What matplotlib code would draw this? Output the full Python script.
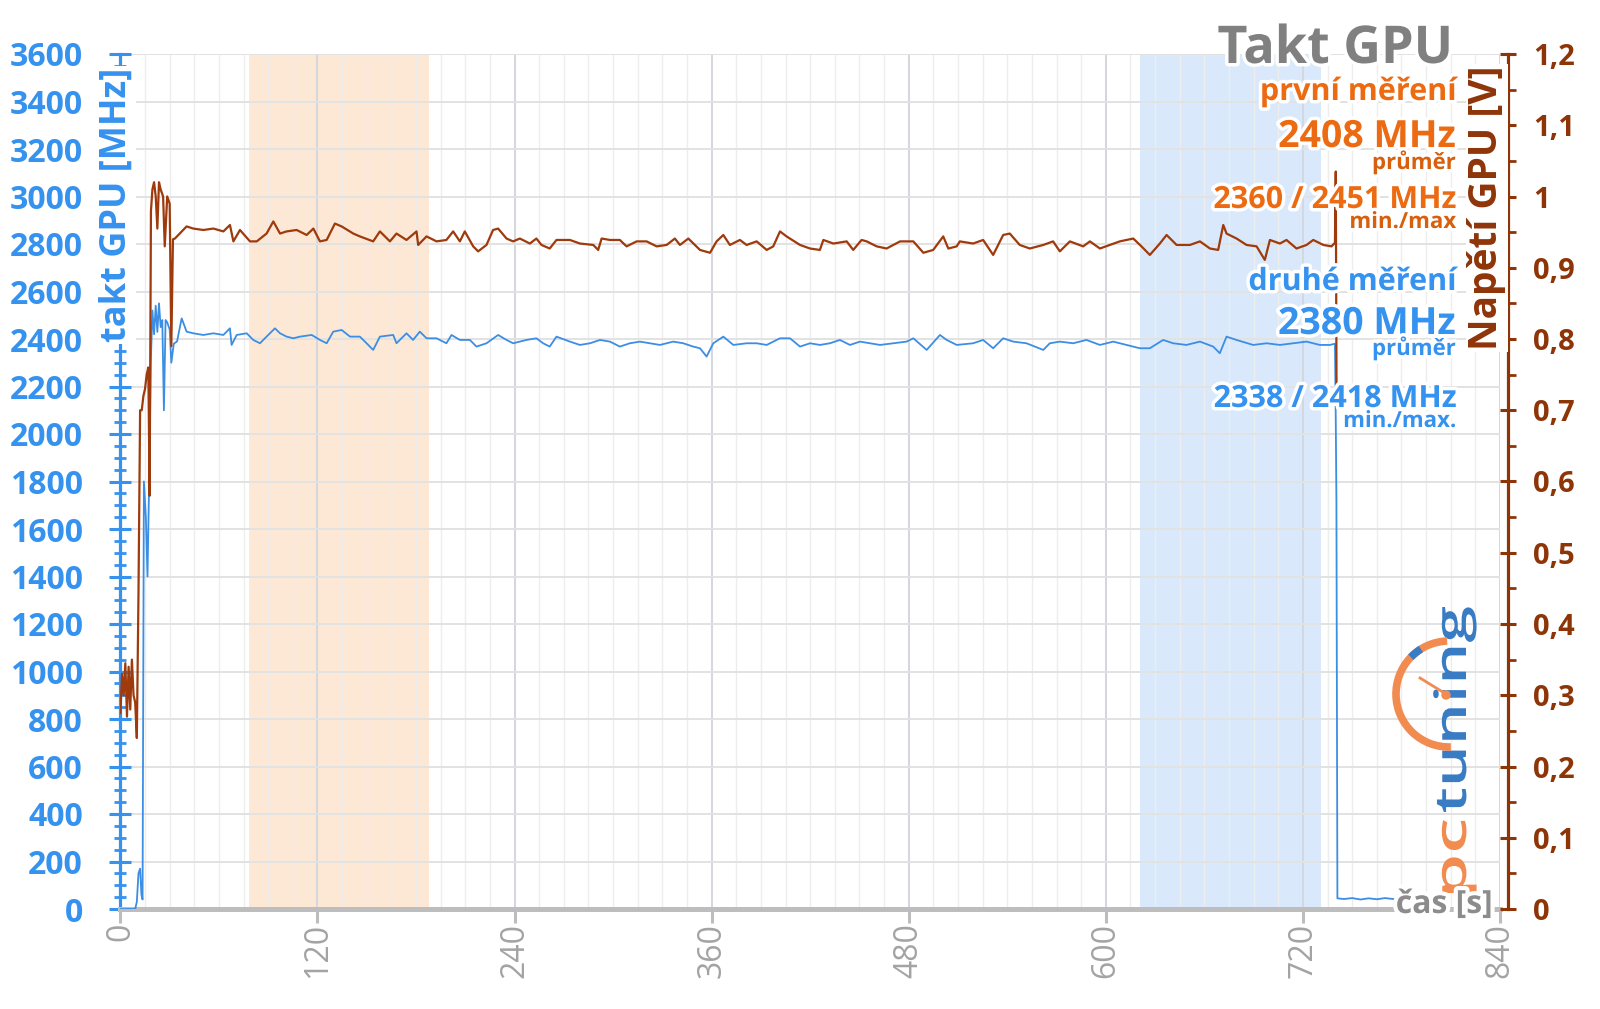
import matplotlib
matplotlib.use("Agg")
import matplotlib.pyplot as plt
import matplotlib.patheffects as pe
from matplotlib.ticker import MultipleLocator, FuncFormatter
from matplotlib.patches import Arc, Circle, PathPatch
from matplotlib.textpath import TextPath
from matplotlib.font_manager import FontProperties
from matplotlib.transforms import Affine2D

plt.rcParams['font.family'] = ['Open Sans', 'DejaVu Sans']

# ---------------- data ----------------
# GPU clock, second run [MHz]
clk_t = [0, 9, 10, 11, 12, 12.8, 13.5, 14.3, 15.5, 16.5, 17.5, 18.5, 19.5, 20.5, 21.5, 22.5, 23.5, 24.5, 25.5, 26.5,
         27.5, 28.5, 30, 31, 32.5, 34.5,
         37.3, 40.3, 44.4, 50.5, 56.6, 62.7, 66.7, 67.7, 70.8, 76.9, 80.9, 85.0, 89.0, 94.1, 97.2, 101.2, 105.3, 109.4,
         116.5, 121.5, 125.6, 129.6, 134.7, 139.8, 145.8, 149.9, 153.9, 158.0, 166.1, 168.1, 174.2, 178.2, 182.3, 186.4,
         192.5, 198.5, 201.6, 206.7, 212.8, 216.8, 222.9, 230.0, 235.1, 239.1, 247.2, 253.3, 257.4, 261.4, 265.5,
         273.7, 279.8, 285.9, 292.0, 298.1, 304.1, 310.2, 316.3, 322.4, 328.5, 336.6, 342.7, 348.8, 352.9, 356.9, 361.0,
         367.1, 373.2, 381.3, 387.4, 393.5, 401.6, 407.7, 413.8, 419.9, 425.9, 432.0, 438.1, 444.2, 450.3, 456.4, 462.5,
         470.6, 478.7, 482.8, 490.9, 499.0, 503.1, 509.2,
         519.2, 525.3, 531.4, 537.5, 543.6, 551.7, 561.9, 565.9, 572.0, 580.1, 588.2, 596.4, 604.5, 612.6, 620.7, 626.8,
         634.9, 641.0, 649.1, 657.3, 665.4, 669.4, 673.5, 679.6, 689.7, 697.9, 706.0, 714.1, 722.2, 730.3, 736.4,
         739.5, 740.0, 740.4, 741.0, 745, 750, 755, 760, 765, 770, 775, 780, 785, 790, 792, 795, 797, 800]
clk_mhz = [0, 0, 30, 150, 170, 60, 40, 1800, 1650, 1400, 1800, 2300, 2520, 2420, 2540, 2430, 2550, 2450, 2480, 2100,
           2480, 2470, 2440, 2300, 2380, 2390,
           2487, 2431, 2424, 2417, 2424, 2417, 2445, 2375, 2417, 2424, 2396, 2382, 2410, 2445, 2424, 2410, 2403, 2410,
           2417, 2396, 2382, 2431, 2438, 2410, 2410, 2382, 2354, 2410, 2417, 2382, 2424, 2396, 2431, 2403,
           2403, 2382, 2417, 2396, 2396, 2368, 2382, 2417, 2396, 2382, 2396, 2403, 2382, 2368, 2410,
           2389, 2375, 2382, 2396, 2389, 2368, 2382, 2389, 2382, 2375, 2389, 2382, 2368, 2361, 2326, 2382,
           2410, 2375, 2382, 2382, 2375, 2403, 2403, 2368, 2382, 2375, 2382, 2396, 2375, 2389, 2382, 2375,
           2382, 2389, 2403, 2354, 2417, 2396, 2375,
           2382, 2396, 2361, 2403, 2389, 2382, 2354, 2382, 2389, 2382, 2396, 2375, 2389, 2375, 2361, 2361,
           2396, 2382, 2375, 2389, 2368, 2340, 2410, 2396, 2375, 2382, 2375, 2382, 2389, 2375, 2375,
           2380, 2060, 1720, 45, 42, 46, 40, 45, 41, 46, 42, 45, 43, 58, 44, 60, 45, 45]

# GPU voltage [V]
volt_t = [0, 1, 2, 3, 4, 5, 6, 7, 8, 9, 10, 11, 12, 13, 14, 15, 16, 17, 17.8, 18.6, 19.5, 20.5, 21.5, 22.5, 23.5,
          24.5, 26, 27, 28.5, 30, 31, 32,
          33.2, 40.3, 44.4, 50.5, 56.6, 62.7, 66.7, 68.8, 72.8, 78.9, 83.0, 89.0, 93.1, 97.2, 101.2, 107.3, 113.4,
          117.5, 121.5, 125.6, 130.6, 134.7, 141.8, 145.8, 153.9, 158.0, 164.1, 168.1, 174.2, 180.3, 181.3, 186.4,
          192.5, 198.5, 202.6, 206.7, 209.7, 214.8, 217.8, 222.9, 226.9, 230.0, 235.1, 239.1, 243.2, 249.3, 253.3,
          256.4, 261.4, 265.5,
          273.7, 279.8, 287.9, 290.9, 293.0, 298.1, 304.1, 308.2, 314.3, 320.4, 326.5, 332.6, 337.6, 340.7, 345.8,
          352.9, 359.0, 363.0, 367.1, 371.1, 377.2, 381.3, 387.4, 393.5, 397.5, 401.6, 405.6, 413.8, 419.9, 425.9,
          428.0, 434.1, 442.2, 446.2, 451.3, 454.4, 460.5, 466.5, 470.6, 474.7, 482.8, 488.9, 494.9, 501.0, 504.1,
          509.2,
          511.1, 519.2, 525.3, 531.4, 537.5, 541.5, 547.6, 553.7, 561.9, 567.9, 572.0, 578.1, 586.2, 590.3, 596.4,
          602.5, 608.5, 616.7, 621.7, 626.8, 632.9, 637.0, 643.1, 651.2, 657.3, 663.4, 668.4, 671.5, 673.5, 679.6,
          685.7, 691.8, 696.8, 699.9, 706.0, 710.0, 716.1, 722.2, 726.3, 732.4, 737.4, 739.5, 740.0, 740.5]
volt_v = [0.275, 0.33, 0.30, 0.345, 0.27, 0.34, 0.28, 0.35, 0.30, 0.29, 0.24, 0.44, 0.70, 0.70, 0.72, 0.73, 0.75,
          0.76, 0.58, 0.98, 1.01, 1.02, 1.00, 0.955, 1.02, 1.01, 1.00, 0.93, 1.00, 0.99, 0.79, 0.94,
          0.941, 0.958, 0.955, 0.953, 0.955, 0.951, 0.960, 0.937, 0.953, 0.937, 0.937, 0.948, 0.965, 0.948, 0.951,
          0.953, 0.946, 0.955, 0.937, 0.939, 0.962, 0.958, 0.948, 0.944, 0.937, 0.951, 0.937, 0.948, 0.939, 0.951,
          0.932, 0.944, 0.937, 0.939, 0.951, 0.937, 0.951, 0.930, 0.923, 0.932, 0.953, 0.955, 0.941, 0.937, 0.941,
          0.934, 0.941, 0.932, 0.927, 0.939,
          0.939, 0.934, 0.932, 0.925, 0.941, 0.939, 0.939, 0.930, 0.937, 0.937, 0.930, 0.932, 0.941, 0.932, 0.941,
          0.925, 0.921, 0.937, 0.946, 0.932, 0.939, 0.932, 0.937, 0.925, 0.930, 0.951, 0.944, 0.932, 0.927, 0.925,
          0.939, 0.934, 0.937, 0.925, 0.939, 0.937, 0.930, 0.927, 0.932, 0.937, 0.937, 0.921, 0.925, 0.944, 0.927,
          0.930,
          0.937, 0.934, 0.939, 0.918, 0.946, 0.948, 0.932, 0.927, 0.932, 0.937, 0.923, 0.937, 0.930, 0.937, 0.927,
          0.932, 0.937, 0.941, 0.930, 0.918, 0.934, 0.946, 0.932, 0.932, 0.937, 0.927, 0.925, 0.960, 0.948, 0.941,
          0.932, 0.930, 0.911, 0.939, 0.934, 0.939, 0.927, 0.932, 0.939, 0.932, 0.930, 0.935, 1.035, 0.71]

# highlighted intervals [s]
span_first = (78, 188)
span_second = (621, 731)

x_ticks = [0, 120, 240, 360, 480, 600, 720, 840]

title = "Takt GPU"
run1_label, run1_avg, run1_minmax = "první měření", "2408 MHz", "2360 / 2451 MHz"
run2_label, run2_avg, run2_minmax = "druhé měření", "2380 MHz", "2338 / 2418 MHz"

# ---------------- style ----------------
BLUE_LINE = '#3B8EE4'
BROWN_LINE = '#9E3A0C'
BLUE_TXT = '#3592EE'
ORANGE_TXT = '#EC6B12'
ORANGE_DK = '#D8600C'
BROWN_TXT = '#8E3508'
GRAY = '#808080'
LOGO_OR = '#F28B50'
LOGO_BL = '#3A7CC4'

W, H = 1600, 1009
fig = plt.figure(figsize=(W / 100, H / 100), dpi=100)
L, R, T, B = 120.4, 1500, 54, 909
ax = fig.add_axes([L / W, 1 - B / H, (R - L) / W, (B - T) / H])
ax2 = ax.twinx()

ax.axvspan(*span_first, color='#FDE8D6', lw=0, zorder=0.2)
ax.axvspan(*span_second, color='#D9E9FB', lw=0, zorder=0.2)

ax.set_xlim(0, 840)
ax.set_ylim(0, 3600)
ax2.set_ylim(0, 1.2)

ax.set_axisbelow(True)
ax.xaxis.set_major_locator(MultipleLocator(120))
ax.xaxis.set_minor_locator(MultipleLocator(15))
ax.yaxis.set_major_locator(MultipleLocator(200))
ax.yaxis.set_minor_locator(MultipleLocator(50))
ax.grid(which='major', axis='x', color='#D3D7DE', lw=1.4)
ax.grid(which='minor', axis='x', color='#EDEDED', lw=1.0)
ax.grid(which='major', axis='y', color='#E2E2E2', lw=1.4)

ax.plot(clk_t, clk_mhz, color=BLUE_LINE, lw=1.3, zorder=3)
ax2.plot(volt_t, volt_v, color=BROWN_LINE, lw=1.6, zorder=3)

for s in ['top', 'right']:
    ax.spines[s].set_visible(False)
for s in ['top', 'left', 'bottom']:
    ax2.spines[s].set_visible(False)
ax.spines['left'].set_color(BLUE_TXT)
ax.spines['left'].set_linewidth(2.3)
ax.spines['bottom'].set_color('#BDBDBD')
ax.spines['bottom'].set_linewidth(3.6)
ax2.spines['right'].set_color(BROWN_TXT)
ax2.spines['right'].set_linewidth(2.3)
ax2.spines['right'].set_position(('outward', 5.8))

ax.set_xticks(x_ticks)
ax.set_xticklabels([str(v) for v in x_ticks], rotation=90, fontweight='normal')
ax.tick_params(axis='x', which='major', direction='out', length=10, width=2.2, color='#BDBDBD',
               labelcolor='#A3A3A3', labelsize=23, pad=0)
ax.tick_params(axis='x', which='minor', length=0)

ax.tick_params(axis='y', which='major', direction='inout', length=16, width=2.2, color=BLUE_TXT,
               labelcolor=BLUE_TXT, labelsize=23, pad=19)
ax.tick_params(axis='y', which='minor', direction='inout', length=8, width=2.0, color=BLUE_TXT)
for lab in ax.get_yticklabels():
    lab.set_fontweight('bold')

ax2.yaxis.set_major_locator(MultipleLocator(0.1))
ax2.yaxis.set_minor_locator(MultipleLocator(0.05))
ax2.yaxis.set_major_formatter(FuncFormatter(lambda v, p: ('%g' % round(v, 2)).replace('.', ',')))
ax2.tick_params(axis='y', which='major', direction='inout', length=12, width=2.2, color=BROWN_TXT,
                labelcolor=BROWN_TXT, labelsize=21, pad=12)
ax2.tick_params(axis='y', which='minor', direction='out', length=6, width=2.0, color=BROWN_TXT)
for lab in ax2.get_yticklabels():
    lab.set_fontweight('bold')

# ---------------- overlay (pixel coordinates, y downwards) ----------------
ov = fig.add_axes([0, 0, 1, 1], zorder=5)
ov.set_xlim(0, W)
ov.set_ylim(H, 0)
ov.axis('off')
ov.patch.set_alpha(0)

halo = [pe.withStroke(linewidth=5, foreground='white')]


def txt(s, x, y, size, color, **kw):
    ov.text(x, y, s, fontsize=size, color=color, fontweight='bold', ha='right', va='baseline',
            path_effects=halo, **kw)


XR = 1456
txt(title, 1453, 63, 37.5, GRAY)
txt(run1_label, XR, 100, 22, ORANGE_TXT)
txt(run1_avg, XR, 147, 27, ORANGE_TXT)
txt("průměr", XR, 169, 16, ORANGE_DK)
txt(run1_minmax, XR, 208, 22, ORANGE_TXT)
txt("min./max", XR, 228, 16, ORANGE_DK)
txt(run2_label, XR, 290, 22, BLUE_TXT)
txt(run2_avg, XR, 334, 27, BLUE_TXT)
txt("průměr", XR, 355, 16, BLUE_TXT)
txt(run2_minmax, XR, 407, 22, BLUE_TXT)
txt("min./max.", XR, 427, 16, BLUE_TXT)

# axis titles
ov.text(117, 205, "takt GPU [MHz]", rotation=90, fontsize=26, fontweight='bold', color=BLUE_TXT,
        ha='center', va='center', bbox=dict(facecolor='white', edgecolor='none', pad=1))
ov.text(1487, 208, "Napětí GPU [V]", rotation=90, fontsize=28, fontweight='bold', color=BROWN_TXT,
        ha='center', va='center', bbox=dict(facecolor='white', edgecolor='none', pad=1))
ov.text(1493, 913, "čas [s]", fontsize=23, fontweight='bold', color='#8C8C8C', ha='right', va='baseline',
        path_effects=[pe.withStroke(linewidth=6, foreground='white')])

# logo: "pctuning" written bottom-to-top, stretched along the reading direction
logo_fp = FontProperties(family='Open Sans', weight='semibold')


def logo_word(s, y_start, y_end, color, x_base=1466, size=44):
    tp = TextPath((0, 0), s, size=size, prop=logo_fp)
    ext = tp.get_extents()
    sx = (y_start - y_end) / ext.width
    local = Affine2D().translate(-ext.x0, 0).scale(sx, 1.0)
    place = Affine2D.from_values(0, -1, -1, 0, x_base, y_start)
    path = (local + place).transform_path(tp)
    ov.add_patch(PathPatch(path, facecolor=color, edgecolor='none'))


logo_word("pc", 893, 820, LOGO_OR)
logo_word("tuning", 812, 607, LOGO_BL)
ov.add_patch(Arc((1449, 694), 106, 106, theta1=88, theta2=268, color=LOGO_OR, lw=5.5))
ov.add_patch(Arc((1449, 694), 106, 106, theta1=224, theta2=238, color=LOGO_BL, lw=5.5))
ov.plot([1420, 1446], [678, 694], color=LOGO_OR, lw=2)
ov.add_patch(Circle((1446, 695), 4, color=LOGO_OR))

fig.savefig('out.png', dpi=100)
